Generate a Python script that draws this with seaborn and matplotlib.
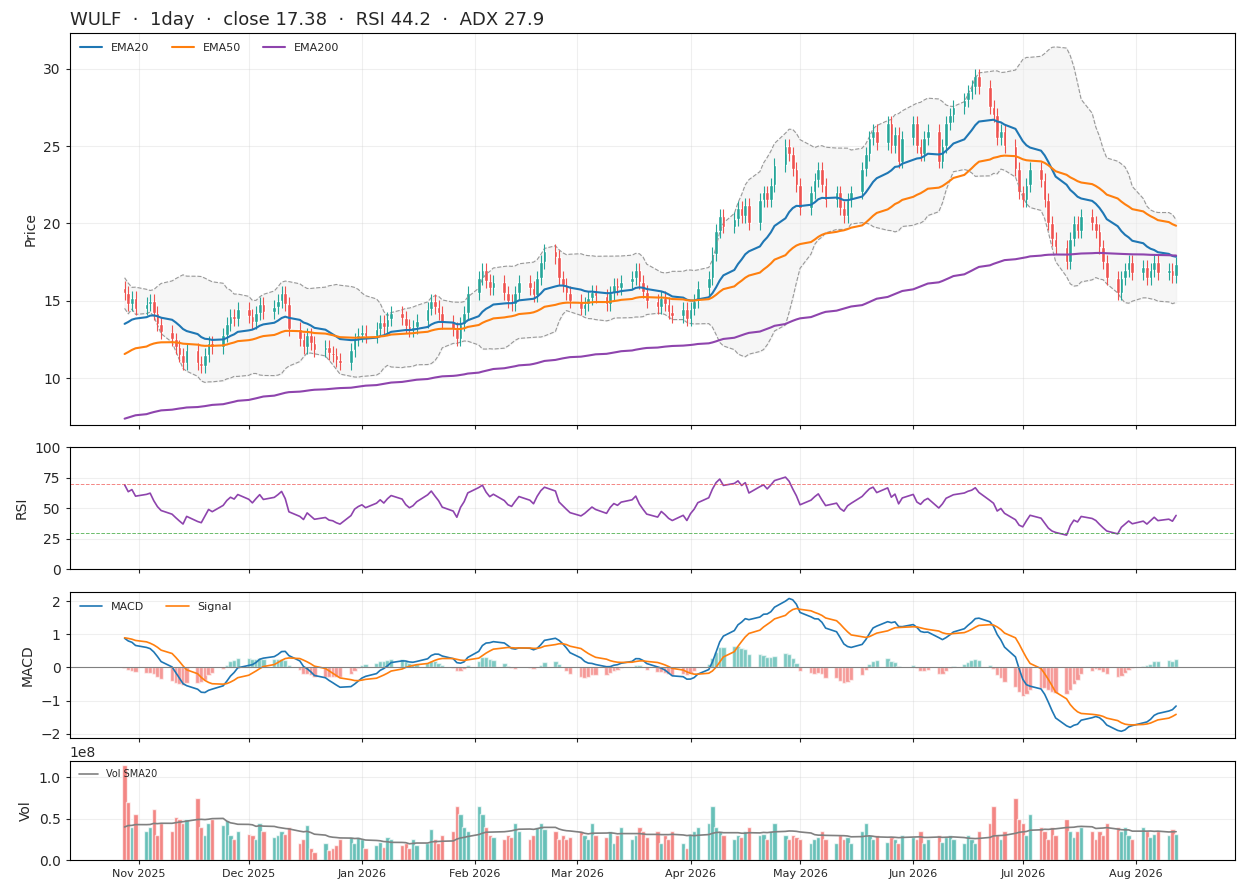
import matplotlib
matplotlib.use("Agg")
import matplotlib.pyplot as plt
import matplotlib.dates as mdates
import seaborn as sns
import numpy as np
import pandas as pd

ticker = "WULF"
close = [15.5, 14.8, 15.2, 14.5,
         14.8, 15.0, 14.2, 13.5, 13.0, 12.5, 12.0, 11.5, 11.0, 11.8, 11.0, 10.8, 11.5, 12.3, 12.0, 12.8, 13.5, 14.0, 13.8, 14.5,
         14.0, 13.6, 14.2, 14.8, 14.3, 14.6, 15.0, 15.5, 14.8, 13.2, 12.5, 12.0, 12.8, 12.3, 11.8, 12.0, 11.6, 11.5, 11.2, 11.0, 11.8, 12.5,
         12.8, 13.0, 12.7, 13.2, 13.6, 13.3, 13.8, 14.2, 13.9, 13.4, 13.1, 13.3, 13.7, 14.5, 15.0, 14.6, 14.2, 13.6, 13.2, 12.5, 13.5,
         14.2, 15.5, 16.5, 17.0, 16.3, 15.8, 16.2, 15.5, 15.0, 14.8, 15.5, 16.2, 15.8, 15.4, 16.5, 17.5, 18.2, 17.8, 16.5,
         16.0, 15.5, 15.0, 14.5, 14.8, 15.2, 15.6, 15.3, 14.8, 15.5, 16.0, 15.8, 16.2, 16.5, 17.0, 16.2, 15.6, 15.0, 14.6, 15.2, 14.8, 14.3,
         14.0, 14.5, 13.8, 14.5, 15.0, 15.8, 16.5, 18.0, 19.5, 20.5, 19.8, 20.3, 21.0, 20.5, 21.2, 20.0, 21.5, 22.0, 21.5, 22.5, 23.8, 25.0,
         24.5, 23.5, 22.5, 21.0, 22.0, 22.8, 23.5, 22.5, 21.5, 22.0, 21.0, 20.5, 21.5, 22.0, 23.5, 24.5, 25.5, 26.0, 25.2, 26.5, 25.0,
         25.8, 24.0, 25.5, 26.5, 25.0, 24.5, 25.5, 26.0, 24.0, 25.0, 26.5, 27.0, 27.5, 28.0, 28.5, 28.8, 29.5, 28.8, 27.5, 27.0, 25.5, 26.0,
         25.0, 23.5, 22.0, 21.5, 22.5, 23.5, 22.8, 21.5, 20.0, 19.0, 18.5, 17.5, 19.0, 20.0, 19.5, 20.5, 20.0, 19.5, 18.5, 17.5, 16.5, 15.5,
         16.5, 17.0, 17.5, 16.8, 17.2, 16.5, 17.0, 17.5, 16.8, 17.0, 16.6, 17.38]
volume_1e7 = [11.5, 7.0, 4.0, 5.5,
              3.5, 4.0, 6.2, 3.0, 4.5, 3.5, 5.2, 5.0, 4.5, 5.0, 7.5, 4.0, 3.0, 4.5, 5.0, 4.2, 4.8, 3.0, 2.5, 3.5,
              3.2, 3.0, 2.5, 4.5, 3.5, 2.8, 3.0, 3.5, 3.2, 4.0, 2.0, 2.5, 4.2, 1.5, 1.0, 2.0, 1.2, 1.5, 1.8, 2.5, 2.8, 2.0,
              2.8, 2.5, 1.5, 1.8, 2.2, 1.6, 2.8, 2.5, 1.8, 2.0, 1.5, 2.5, 1.8, 2.0, 3.8, 2.5, 2.0, 3.0, 3.5, 6.5, 5.5,
              4.0, 3.5, 6.5, 5.5, 4.0, 3.0, 2.8, 2.5, 3.0, 2.8, 4.5, 3.5, 2.5, 3.0, 4.0, 4.5, 3.8, 3.5, 2.5,
              3.0, 2.5, 2.8, 3.5, 3.0, 2.5, 4.5, 3.0, 2.8, 3.5, 2.0, 3.0, 4.0, 2.5, 3.0, 4.0, 3.5, 2.8, 3.5, 2.0, 3.0, 2.5,
              3.5, 2.0, 1.5, 3.2, 3.5, 4.0, 4.5, 6.5, 4.0, 3.5, 3.0, 2.5, 3.0, 2.8, 3.5, 4.0, 3.0, 3.2, 2.5, 3.5, 4.5, 3.0,
              2.5, 3.0, 2.8, 2.5, 2.0, 2.5, 2.8, 3.5, 2.5, 2.0, 3.0, 2.5, 2.8, 2.0, 3.5, 4.5, 3.0, 2.5, 3.0, 2.2, 2.8,
              2.5, 2.0, 3.0, 2.8, 2.5, 3.5, 2.0, 2.5, 3.0, 2.2, 2.8, 3.0, 2.5, 2.0, 3.0, 2.5, 2.0, 3.5, 4.5, 6.5, 3.0, 2.5,
              3.5, 7.5, 5.0, 4.5, 3.0, 5.5, 4.0, 3.5, 2.5, 4.0, 3.0, 5.0, 3.5, 2.8, 3.5, 4.0, 3.5, 2.5, 3.5, 3.0, 4.5, 4.0,
              3.5, 4.0, 3.0, 2.5, 4.0, 3.5, 2.8, 3.2, 3.5, 3.0, 3.8, 3.2]
# indicator seeds (history before the visible window)
seed_ema = {"EMA20": 13.3, "EMA50": 11.4, "EMA200": 7.3}
seed_ema12, seed_ema26, seed_signal = 14.9, 14.0, 0.9
seed_gain, seed_loss = 0.45, 0.2
seed_vol_1e7 = 3.6

dates = pd.bdate_range("2025-10-28", periods=len(close))
c = pd.Series(close, index=dates)
o = c.shift(1).fillna(c.iloc[0] + 0.3)
hi = np.maximum(o, c) + 0.45
lo = np.minimum(o, c) - 0.45
vol = pd.Series(volume_1e7, index=dates) * 1e7

def ema(s, n, seed):
    a = 2 / (n + 1)
    out, v = [], seed
    for x in s:
        v = a * x + (1 - a) * v
        out.append(v)
    return pd.Series(out, index=s.index)

emas = {k: ema(c, int(k[3:]), v) for k, v in seed_ema.items()}
mid = c.rolling(20, min_periods=1).mean()
sd = c.rolling(20, min_periods=2).std().bfill()
bb_up, bb_lo = mid + 2 * sd, mid - 2 * sd
macd = ema(c, 12, seed_ema12) - ema(c, 26, seed_ema26)
signal = ema(macd, 9, seed_signal)
hist = macd - signal
d = c.diff().fillna(0)
g, l, rsi = seed_gain, seed_loss, []
for x in d:
    g = (g * 13 + max(x, 0)) / 14
    l = (l * 13 + max(-x, 0)) / 14
    rsi.append(100 - 100 / (1 + g / l))
rsi = pd.Series(rsi, index=dates)
vol_ext = pd.Series([seed_vol_1e7] * 19 + volume_1e7) * 1e7
vol_sma = vol_ext.rolling(20).mean().iloc[19:].values

sns.set_style("white")
plt.rcParams['font.family'] = ['DejaVu Sans']
green, red = "#26a69a", "#ef5350"
fig, axes = plt.subplots(4, 1, figsize=(12.47, 8.94), dpi=100, sharex=True,
                         gridspec_kw={"height_ratios": [402, 125, 150, 102], "hspace": 0.12})
fig.subplots_adjust(left=0.056, right=0.99, top=0.963, bottom=0.038)
ax, ax2, ax3, ax4 = axes
up = (c >= o).values
cols = np.where(up, green, red)

ax.fill_between(dates, bb_lo, bb_up, color="#eeeeee", alpha=0.5)
ax.plot(dates, bb_up, color="#999999", ls="--", lw=0.8)
ax.plot(dates, bb_lo, color="#999999", ls="--", lw=0.8)
ax.vlines(dates, lo, hi, colors=cols, lw=0.8)
ax.bar(dates, (c - o).abs().clip(lower=0.05), bottom=np.minimum(o, c), width=1.0, color=cols)
for k, colr in zip(emas, ["#1f77b4", "#ff7f0e", "#8e44ad"]):
    sns.lineplot(x=dates, y=emas[k].values, ax=ax, color=colr, lw=1.5, label=k)
ax.legend(loc="upper left", ncol=3, fontsize=8, frameon=False)
ax.set_ylabel("Price")
ax.set_ylim(7, 32.3)
ax.set_title(f"{ticker}  ·  1day  ·  close {close[-1]:.2f}  ·  RSI 44.2  ·  ADX 27.9", loc="left", fontsize=13)

sns.lineplot(x=dates, y=rsi.values, ax=ax2, color="#8e44ad", lw=1.2)
ax2.axhline(70, color=red, ls="--", lw=0.7, alpha=0.7)
ax2.axhline(30, color="#2ca02c", ls="--", lw=0.7, alpha=0.7)
ax2.set_ylim(0, 100)
ax2.set_yticks([0, 25, 50, 75, 100])
ax2.set_ylabel("RSI")

ax3.bar(dates, hist, width=1.2, color=np.where(hist >= 0, green, red), alpha=0.6)
sns.lineplot(x=dates, y=macd.values, ax=ax3, color="#1f77b4", lw=1.2, label="MACD")
sns.lineplot(x=dates, y=signal.values, ax=ax3, color="#ff7f0e", lw=1.2, label="Signal")
ax3.axhline(0, color="gray", lw=0.8)
ax3.legend(loc="upper left", ncol=2, fontsize=8, frameon=False)
ax3.set_ylabel("MACD")

ax4.bar(dates, vol, width=1.2, color=cols, alpha=0.7)
sns.lineplot(x=dates, y=vol_sma, ax=ax4, color="gray", lw=1.2, label="Vol SMA20")
ax4.legend(loc="upper left", fontsize=7, frameon=False)
ax4.set_ylabel("Vol")
ax4.set_ylim(0, 1.2e8)
ax4.set_xlabel("")

for a in axes:
    a.grid(True, alpha=0.3)
    a.tick_params(axis="both", direction="out", length=3, left=True, bottom=True)
    for s in a.spines.values():
        s.set_color("black")
ax4.xaxis.set_major_locator(mdates.MonthLocator())
ax4.xaxis.set_major_formatter(mdates.DateFormatter("%b %Y"))
ax4.tick_params(axis="x", labelsize=8)
ax4.set_xlim(pd.Timestamp("2025-10-13"), pd.Timestamp("2026-08-28"))
fig.savefig("out.png", dpi=100)
